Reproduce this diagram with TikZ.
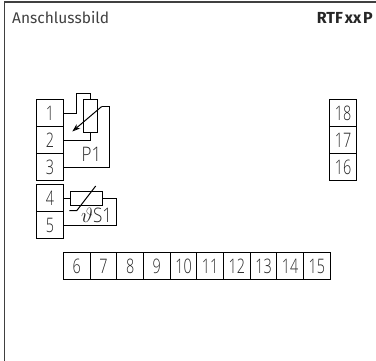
\documentclass[tikz,border=0pt]{standalone}
\usepackage{fontspec}
\setmainfont{Fira Sans}
\newfontfamily\klemmefont[FakeStretch=0.72]{Open Sans Light}
\newfontfamily\labelfont[FakeStretch=0.85]{Open Sans Light}
\usetikzlibrary{arrows.meta}
\tikzset{
    klemme/.style={draw, line width=1pt, minimum width=26.67pt, minimum height=27pt, inner sep=0pt, outer sep=0pt, font=\klemmefont\fontsize{20}{20}\selectfont, text=black!85},
    bauteil/.style={draw, line width=1pt, inner sep=0pt, outer sep=0pt},
    leitung/.style={line width=1pt},
    bezeichnung/.style={inner sep=0pt, font=\labelfont\fontsize{20}{20}\selectfont, text=black!85}
}
\begin{document}
\begin{tikzpicture}[x=1pt, y=-1pt]
        \useasboundingbox (0, 0) rectangle (376, 361);
        % Rahmen
        \coordinate (rahmenoben) at (376, 2);
        \coordinate (rahmenecke) at (4.5, 2);
        \coordinate (rahmenunten) at (4.5, 361);
        \draw[line width=1.2pt, black!75] (rahmenoben) -- (rahmenecke) -- (rahmenunten);
        % Titel
        \node[anchor=west, inner sep=0pt, text=black!75, font=\fontsize{15.5}{15.5}\selectfont] (titel) at (12, 18) {Anschlussbild};
        \node[anchor=east, inner sep=0pt, text=black!85, font=\bfseries\fontsize{16}{16}\selectfont] (typ) at (373, 18) {RTF\hspace{2pt}xx\hspace{2pt}P};
        % Klemmen
        \foreach \n/\y in {1/113.5, 2/140.5, 3/167.5, 4/198.5, 5/225.5}
        {
            \node[klemme] (k\n) at (50, \y) {\n};
        }
        \foreach \n [evaluate=\n as \x using 63.5+(\n-6)*26.67] in {6, 7, ..., 15}
        {
            \node[klemme] (k\n) at (\x+13.33, 266.5) {\n};
        }
        \foreach \n/\y in {18/113.5, 17/140.5, 16/167.5}
        {
            \node[klemme] (k\n) at (343, \y) {\n};
        }
        % Poti
        \node[bauteil, minimum width=13.5pt, minimum height=33pt] (poti) at (90.25, 116.5) {};
        \node[bezeichnung] (potilabel) at (91.5, 154) {P1};
        \coordinate (potiecke) at (109.5, 106.5);
        \coordinate (potispitze) at (72.3, 131.5);
        \coordinate (potistart) at (101.7, 106.5);
        \draw[leitung] (k1.east) -- ++(13.5, 0) -- ++(0, -20) -| (poti.north);
        \draw[leitung] (k2.east) -| (poti.south);
        \draw[leitung] (k3.east) -| (potiecke) -- (potistart);
        \draw[leitung, -{Stealth[open, length=8pt, width=5.5pt]}] (potistart) -- (potispitze);
        % Thermistor
        \node[bauteil, minimum width=32.5pt, minimum height=14pt] (ntc) at (86.25, 198.5) {};
        \node[bezeichnung] (ntclabel) at (96.5, 215.5) {$\vartheta$S1};
        \coordinate (ntcecke) at (116.7, 198.5);
        \coordinate (ntcoben) at (95.7, 186);
        \coordinate (ntcknick) at (76.7, 210.7);
        \coordinate (ntcende) at (69.3, 210.7);
        \draw[leitung] (k4.east) -- (ntc.west);
        \draw[leitung] (ntc.east) -- (ntcecke) |- (k5.east);
        \draw[leitung] (ntcoben) -- (ntcknick) -- (ntcende);
\end{tikzpicture}
\end{document}
